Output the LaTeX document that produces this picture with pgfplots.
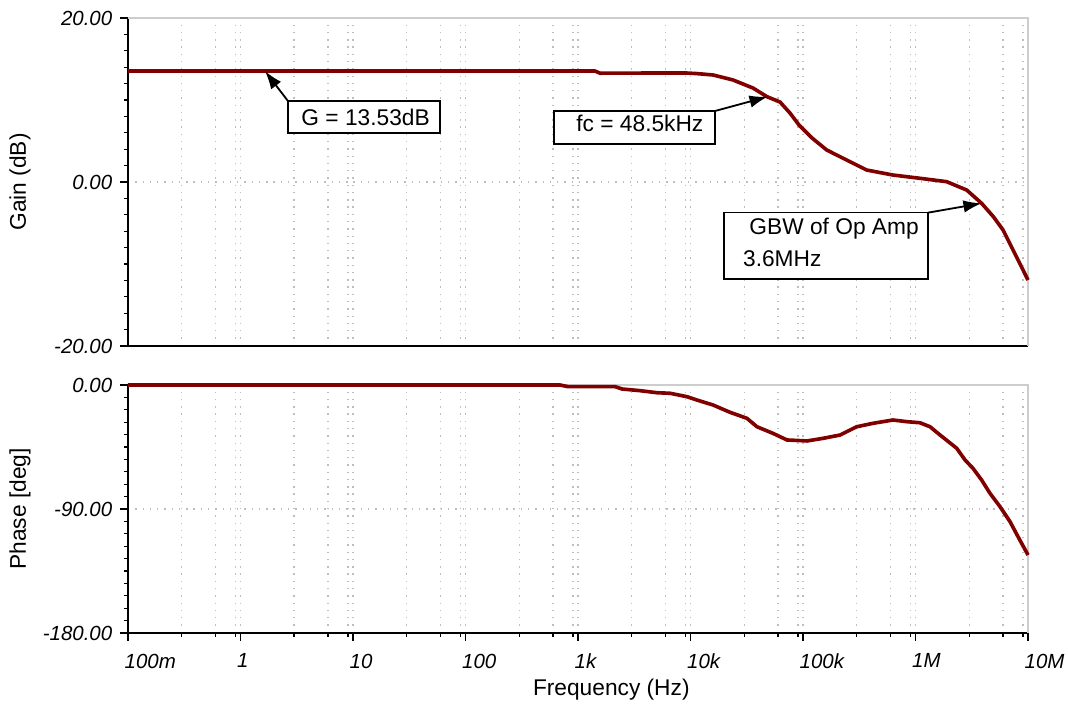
\documentclass[border=0pt]{standalone}
\usepackage{fontspec}
\setmainfont{Liberation Sans}
\usepackage{pgfplots}
\pgfplotsset{compat=1.18}
\usepackage{pgfplotstable}
\usetikzlibrary{arrows.meta}
\definecolor{curve}{RGB}{128,0,0}
\definecolor{gridc}{RGB}{190,190,190}
\definecolor{framec}{RGB}{205,205,205}

\pgfplotstableread{
f g
0.1 13.53
1416 13.53
1570 13.27
8930 13.30
11430 13.22
15850 13.05
23870 12.44
35940 11.46
47900 10.40
62500 9.75
76600 8.41
92100 6.95
120200 5.37
162500 3.90
244600 2.68
368000 1.46
631000 0.85
1096000 0.45
1890000 0.04
2850000 -0.98
3870000 -2.60
4920000 -4.23
6000000 -5.85
7360000 -8.29
10000000 -11.95
}\gaindata

\pgfplotstableread{
f p
0.1 0
692 0
815 -1.2
2133 -1.2
2462 -2.9
3556 -4.1
5036 -5.6
6574 -6.0
9317 -8.5
12140 -11.6
15850 -14.5
22440 -19.8
31770 -24.2
38990 -30.3
54090 -35.1
72060 -39.9
108600 -40.6
150700 -38.7
213400 -36.3
300000 -30.3
419000 -27.8
631000 -25.4
835000 -26.6
1096000 -27.4
1346000 -30.3
1652000 -36.3
2323000 -45.9
2755000 -54.4
3244000 -60.5
3873000 -69.0
4590000 -78.6
5640000 -88.3
6920000 -99.2
8150000 -110.1
10000000 -123.4
}\phasedata

\begin{document}
\begin{tikzpicture}
\path[use as bounding box] (-56.32pt,-32.12pt) rectangle (413.6pt,278.52pt);

% Gain
\begin{axis}[at={(0pt,126.28pt)}, anchor=south west,
  scale only axis, width=396pt, height=144.32pt,
  xmode=log, xmin=0.1, xmax=1e7,
  ymin=-20, ymax=20,
  axis x line*=bottom, axis y line*=left,
  axis line style={-, line width=0.7pt, black},
  tick align=outside, major tick length=3.4pt, minor tick length=1.6pt,
  tick style={black, line width=0.6pt},
  xtick style={draw=none},
  xtick={0.1,1,10,100,1000,10000,100000,1000000,10000000},
  minor xtick={0.3,0.6,0.9,3,6,9,30,60,90,300,600,900,3000,6000,9000,30000,60000,90000,300000,600000,900000,3000000,6000000,9000000},
  xmajorgrids, xminorgrids, ymajorgrids,
  major grid style={gridc, line width=0.6pt, dash pattern=on 0.6pt off 2.6pt},
  minor grid style={gridc, line width=0.6pt, dash pattern=on 0.6pt off 2.6pt},
  tick label style={font=\small\itshape},
  clip=false,
  ytick={-20,0,20}, yticklabels={-20.00,0.00,20.00},
  minor ytick={-18,-16,-14,-12,-10,-8,-6,-4,-2,2,4,6,8,10,12,14,16,18},
  xticklabels={},
  ylabel={Gain (dB)},
  ylabel style={at={(axis description cs:-0.12,0.5)}, anchor=center}]
\draw[framec, line width=0.7pt] (rel axis cs:0,1) -- (rel axis cs:1,1) -- (rel axis cs:1,0);
\addplot[curve, line width=1.6pt] table[x=f, y=g] {\gaindata};
\draw[line width=0.7pt, fill=white] (axis cs:2.64,9.88) rectangle (axis cs:59.3,5.98);
\node[anchor=base west, inner sep=0pt] at (axis cs:3.45,6.95) {G = 13.53dB};
\draw[line width=0.8pt, -{Latex[length=8pt,width=5.5pt]}] (axis cs:2.64,9.88) -- (axis cs:1.651,13.53);
\draw[line width=0.7pt, fill=white] (axis cs:612,8.66) rectangle (axis cs:16520,4.63);
\node[anchor=base west, inner sep=0pt] at (axis cs:959,6.13) {fc = 48.5kHz};
\draw[line width=0.8pt, -{Latex[length=8pt,width=5.5pt]}] (axis cs:16520,8.66) -- (axis cs:48500,10.4);
\draw[line width=0.7pt, fill=white] (axis cs:19860,-3.74) rectangle (axis cs:1291000,-11.83);
\node[anchor=base west, inner sep=0pt] at (axis cs:33110,-6.46) {GBW of Op Amp};
\node[anchor=base west, inner sep=0pt] at (axis cs:29100,-10.33) {3.6MHz};
\draw[line width=0.8pt, -{Latex[length=8pt,width=5.5pt]}] (axis cs:1291000,-3.74) -- (axis cs:3870000,-2.6);
\end{axis}

% Phase
\begin{axis}[at={(0pt,0pt)}, anchor=south west,
  scale only axis, width=396pt, height=109.12pt,
  xmode=log, xmin=0.1, xmax=1e7,
  ymin=-180, ymax=0,
  axis x line*=bottom, axis y line*=left,
  axis line style={-, line width=0.7pt, black},
  tick align=outside, major tick length=3.4pt, minor tick length=1.6pt,
  tick style={black, line width=0.6pt},
  xtick={0.1,1,10,100,1000,10000,100000,1000000,10000000},
  minor xtick={0.3,0.6,0.9,3,6,9,30,60,90,300,600,900,3000,6000,9000,30000,60000,90000,300000,600000,900000,3000000,6000000,9000000},
  xmajorgrids, xminorgrids, ymajorgrids,
  major grid style={gridc, line width=0.6pt, dash pattern=on 0.6pt off 2.6pt},
  minor grid style={gridc, line width=0.6pt, dash pattern=on 0.6pt off 2.6pt},
  tick label style={font=\small\itshape},
  clip=false,
  ytick={-180,-90,0}, yticklabels={-180.00,-90.00,0.00},
  minor ytick={-171,-162,-153,-144,-135,-126,-117,-108,-99,-81,-72,-63,-54,-45,-36,-27,-18,-9},
  xticklabels={100m,1,10,100,1k,10k,100k,1M,10M},
  xticklabel style={anchor=north west, xshift=-5pt, yshift=-2.2pt},
  xlabel={Frequency (Hz)}, ylabel={Phase [deg]},
  ylabel style={at={(axis description cs:-0.12,0.5)}, anchor=center},
  xlabel style={at={(axis description cs:0.537,-0.2298)}, anchor=center}]
\draw[framec, line width=0.7pt] (rel axis cs:0,1) -- (rel axis cs:1,1) -- (rel axis cs:1,0);
\addplot[curve, line width=1.6pt] table[x=f, y=p] {\phasedata};
\end{axis}
\end{tikzpicture}
\end{document}
